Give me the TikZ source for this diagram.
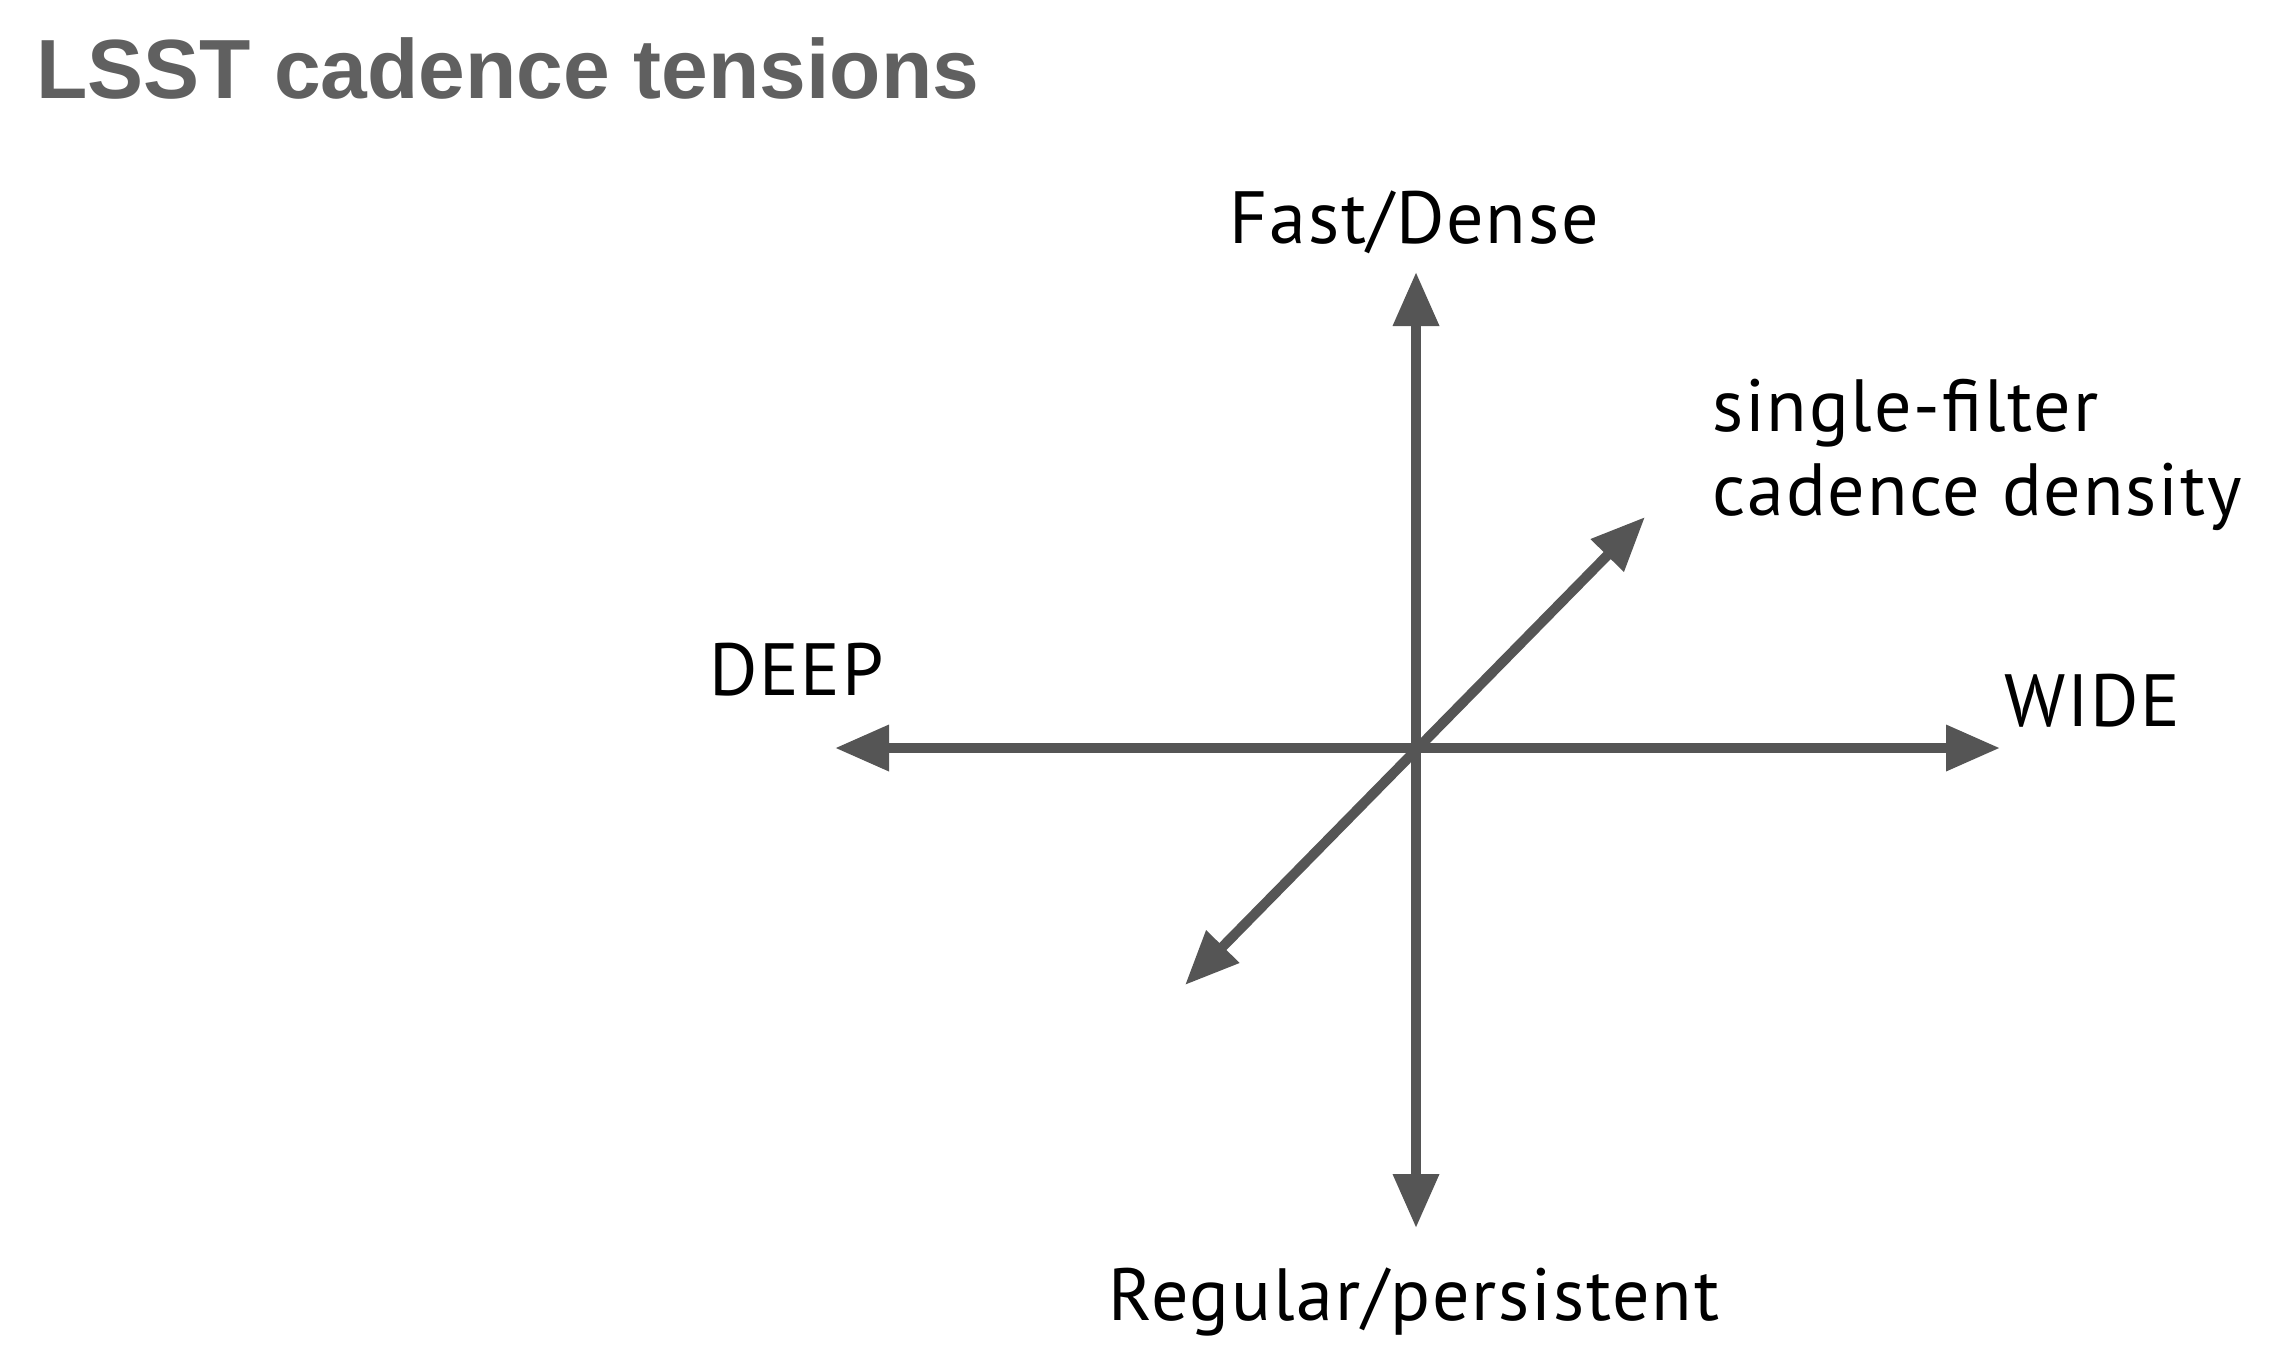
\documentclass[tikz,border=0pt]{standalone}
\usepackage{fontspec}
\setmainfont{PT Sans}[LetterSpace=2.5]
\newfontfamily\titlefont{Liberation Sans}
\usetikzlibrary{arrows.meta}
\definecolor{axisgray}{HTML}{555555}
\definecolor{titlegray}{HTML}{606060}
\begin{document}
\begin{tikzpicture}[x=1pt,y=-1pt,
  lbl/.style={inner sep=0pt, font=\fontsize{74}{84}\selectfont, text=black},
  axis/.style={draw=axisgray, line width=10pt, {Triangle[length=54pt,width=44pt]}-{Triangle[length=54pt,width=44pt]}}]
\useasboundingbox (0,0) rectangle (2269,1350);
\node[inner sep=0pt, anchor=base west, text=titlegray, font=\titlefont\bfseries\fontsize{84}{90}\selectfont] (title) at (36,98) {LSST cadence tensions};
\coordinate (c) at (1416,748);
\coordinate (top) at (1416,272);
\coordinate (bot) at (1416,1228);
\coordinate (lft) at (835,748);
\coordinate (rgt) at (2000,748);
\coordinate (ur) at (1645,517);
\coordinate (ll) at (1185,985);
\draw[axis] (lft) -- (rgt);
\draw[axis] (bot) -- (top);
\draw[axis] (ll) -- (ur);
\node[lbl, anchor=base] (fast) at (1414,243) {Fast/Dense};
\node[lbl, anchor=base] (reg) at (1414,1320) {Regular/persistent};
\node[lbl, anchor=base west] (deep) at (709,695) {DEEP};
\node[lbl, anchor=base west] (wide) at (2004,726) {WIDE};
\node[lbl, anchor=base west] (sf1) at (1712,431) {single-filter};
\node[lbl, anchor=base west] (sf2) at (1712,515) {cadence density};
\end{tikzpicture}
\end{document}
